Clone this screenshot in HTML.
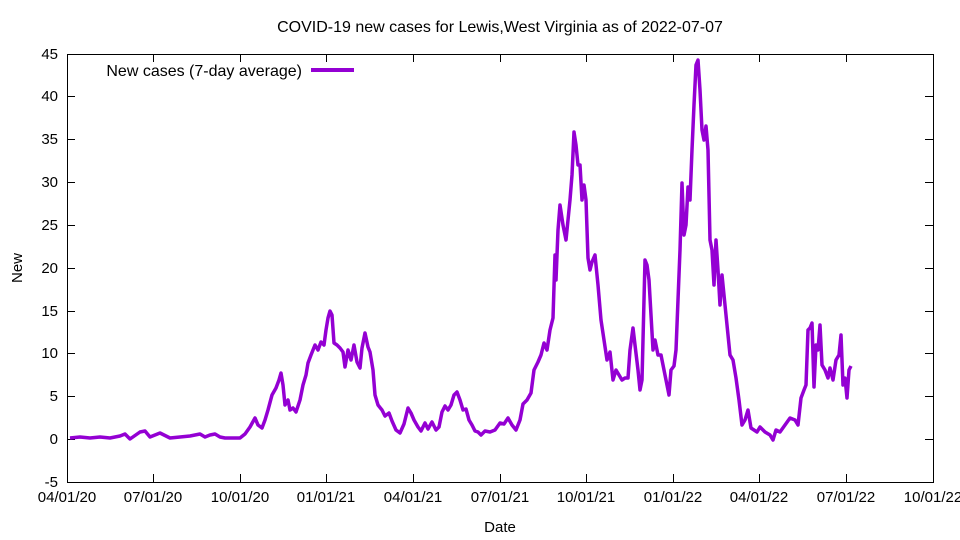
<!DOCTYPE html>
<html><head><meta charset="utf-8"><style>
html,body{margin:0;padding:0;background:#fff;}
svg{display:block;font-family:"Liberation Sans",sans-serif;}
</style></head><body>
<svg width="960" height="540" viewBox="0 0 960 540" xmlns="http://www.w3.org/2000/svg">
<rect width="960" height="540" fill="#fff"/>
<text x="500" y="32" font-size="16" text-anchor="middle">COVID-19 new cases for Lewis,West Virginia as of 2022-07-07</text>
<g stroke="#000" stroke-width="1" fill="none">
<rect x="67.5" y="54.5" width="866" height="428"/>
<path d="M67 482.5h8M933 482.5h-8M67 439.5h8M933 439.5h-8M67 396.5h8M933 396.5h-8M67 353.5h8M933 353.5h-8M67 311.5h8M933 311.5h-8M67 268.5h8M933 268.5h-8M67 225.5h8M933 225.5h-8M67 182.5h8M933 182.5h-8M67 139.5h8M933 139.5h-8M67 96.5h8M933 96.5h-8M67 54.5h8M933 54.5h-8"/>
<path d="M153.5 482v-8M153.5 54v8M240.5 482v-8M240.5 54v8M326.5 482v-8M326.5 54v8M413.5 482v-8M413.5 54v8M500.5 482v-8M500.5 54v8M586.5 482v-8M586.5 54v8M673.5 482v-8M673.5 54v8M759.5 482v-8M759.5 54v8M846.5 482v-8M846.5 54v8"/>
</g>
<g font-size="15" text-anchor="end">
<text x="58" y="487">-5</text><text x="58" y="444">0</text><text x="58" y="401">5</text><text x="58" y="358">10</text><text x="58" y="316">15</text><text x="58" y="273">20</text><text x="58" y="230">25</text><text x="58" y="187">30</text><text x="58" y="144">35</text><text x="58" y="101">40</text><text x="58" y="59">45</text>
</g>
<g font-size="15" text-anchor="middle">
<text x="67" y="502">04/01/20</text><text x="153" y="502">07/01/20</text><text x="240" y="502">10/01/20</text><text x="326" y="502">01/01/21</text><text x="413" y="502">04/01/21</text><text x="500" y="502">07/01/21</text><text x="586" y="502">10/01/21</text><text x="673" y="502">01/01/22</text><text x="759" y="502">04/01/22</text><text x="846" y="502">07/01/22</text><text x="933" y="502">10/01/22</text>
<text x="500" y="532">Date</text>
<text x="22" y="268" transform="rotate(-90 22 268)">New</text>
</g>
<text x="302" y="76" font-size="16" text-anchor="end">New cases (7-day average)</text>
<line x1="311" y1="70" x2="354" y2="70" stroke="#9400d3" stroke-width="4"/>
<polyline fill="none" stroke="#9400d3" stroke-width="3.5" stroke-linejoin="round" points="70,438 80,437 90,438 100,437 110,438 120,436 125,434 130,439 140,432 145,431 150,437 160,433 170,438 180,437 190,436 200,434 205,437 210,435 215,434 220,437 225,438 235,438 240,438 245,434 250,427 255,418 258,425 262,428 265,420 268,410 272,395 276,388 279,380 281,373 283,385 285,405 288,400 290,410 293,408 296,412 300,400 303,385 306,375 308,363 311,355 315,345 318,350 321,342 324,345 326,330 328,318 330,311 332,315 334,343 337,345 340,348 343,352 345,367 348,350 351,360 354,345 357,362 360,368 362,348 365,333 368,347 370,352 373,370 375,395 378,405 382,410 385,416 389,413 392,421 396,430 400,433 404,424 408,408 411,413 414,420 418,427 421,431 425,423 428,429 432,422 436,430 439,427 442,412 445,406 448,410 451,405 454,395 457,392 460,400 463,410 466,409 469,420 472,425 475,431 478,432 481,435 485,431 490,432 495,430 500,423 504,424 508,418 512,425 516,430 520,420 523,404 527,400 531,393 534,370 538,362 541,355 544,343 547,350 550,330 553,318 555,255 556,280 558,230 560,205 563,225 566,240 568,220 570,200 572,175 574,132 576,145 578,165 580,165 582,200 584,185 586,200 588,258 590,270 592,262 595,255 598,285 601,320 604,340 607,360 610,352 613,380 616,370 619,375 622,380 625,378 628,378 630,350 633,328 635,345 638,370 640,390 642,380 645,260 647,265 649,280 651,315 653,350 655,340 658,355 661,355 664,370 667,385 669,395 671,370 674,366 676,350 678,300 680,250 682,183 684,235 686,225 688,187 690,200 692,150 694,105 696,65 698,60 700,90 702,130 704,140 706,126 708,150 710,240 712,250 714,285 716,240 718,270 720,305 722,275 724,295 727,325 730,355 733,360 736,378 739,400 742,425 745,420 748,410 751,428 754,430 757,432 760,427 765,432 770,435 773,440 776,430 780,432 785,425 790,418 795,420 798,425 801,398 804,390 806,385 808,330 810,328 812,323 814,387 816,345 818,350 820,325 822,365 825,370 828,378 830,368 833,380 836,360 839,355 841,335 843,385 845,378 847,398 849,370 851,366"/>
</svg>
</body></html>
